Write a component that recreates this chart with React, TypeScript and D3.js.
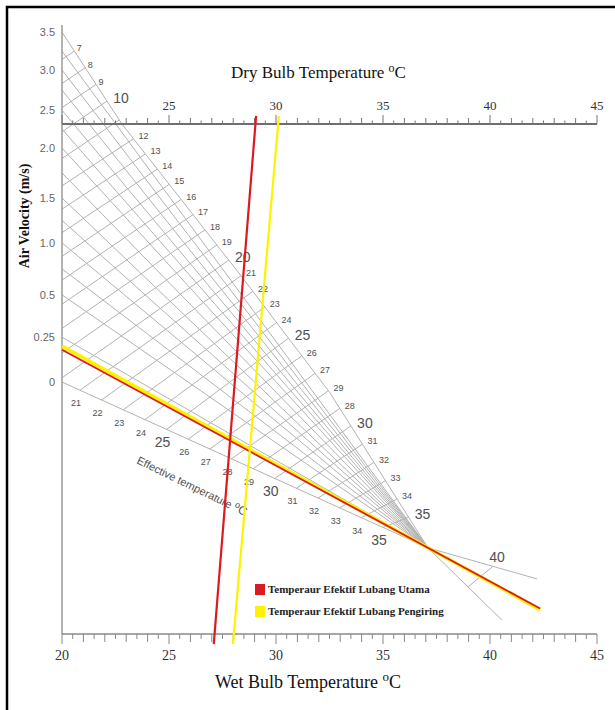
import React from "react";
import * as d3 from "d3";

// axis labels
const dryBulbLabels = [25, 30, 35, 40, 45];
const wetBulbLabels = [20, 25, 30, 35, 40, 45];
const velocityLabels = [0, 0.25, 0.5, 1.0, 1.5, 2.0, 2.5, 3.0, 3.5];
const velocityText = ["0", "0.25", "0.5", "1.0", "1.5", "2.0", "2.5", "3.0", "3.5"];

// velocity lines of the nomogram (3.5 is the outer edge)
const velocityGrid = [0, 0.25, 0.5, 0.75, 1.0, 1.25, 1.5, 1.75, 2.0, 2.25, 2.5, 2.75, 3.0, 3.25];

// effective temperature lines and their labels
const etGrid = [7, 8, 9, 10, 11, 12, 13, 14, 15, 16, 17, 18, 19, 20, 21, 22, 23, 24, 25, 26, 27, 28, 29, 30, 31, 32, 33, 34, 35];
const etUpperValues = [7, 8, 9, 10, 12, 13, 14, 15, 16, 17, 18, 19, 20, 21, 22, 23, 24, 25, 26, 27, 28, 29, 30, 31, 32, 33, 34, 35];
const etUpperText = ["7", "8", "9", "10", "12", "13", "14", "15", "16", "17", "18", "19", "20", "21", "22", "23", "24", "25", "26", "27", "29", "28", "30", "31", "32", "33", "34", "35"];
const etLowerValues = [21, 22, 23, 24, 25, 26, 27, 28, 29, 30, 31, 32, 33, 34, 35];
const bigLabels = [10, 20, 25, 30, 35];

// measured shafts: dry bulb / wet bulb reading and the velocity line drawn through the focus
const series = [
  { name: "Temperaur Efektif Lubang Utama", color: "#dc1a22", dryBulb: 29.04, wetBulb: 27.13, velocity: 0.18, endTemp: 42.34 },
  { name: "Temperaur Efektif Lubang Pengiring", color: "#fff200", dryBulb: 30.1, wetBulb: 28.03, velocity: 0.2, endTemp: 42.34 },
];

const serif = "'Liberation Serif', 'Times New Roman', serif";
const sans = "'Liberation Sans', Arial, sans-serif";
const gridColor = "#b2b2b2";
const labelColor = "#505050";

export default function App() {
  // temperature (°C) -> px, u: 0 = dry bulb axis, 1 = wet bulb axis
  const x = d3.scaleLinear().domain([20, 45]).range([62, 597]);
  const y = d3.scaleLinear().domain([0, 1]).range([124, 634]);
  // velocity -> u on the left axis
  const vU = d3.scaleLinear().domain(velocityLabels)
    .range([0.506, 0.418, 0.335, 0.233, 0.145, 0.047, -0.027, -0.106, -0.18]);
  // ET -> u on the outer (3.5 m/s) edge
  const etU = d3.scaleLinear().domain([7, 10, 12, 20, 25, 30, 35])
    .range([-0.143, -0.045, 0.029, 0.267, 0.42, 0.592, 0.771]);
  // outer edge: u -> temperature
  const edgeT = d3.scaleLinear().domain([-0.18, 0, 0.3, 0.527, 0.831])
    .range([20, 22.8, 28.41, 32.52, 37.1]);
  // ET -> temperature on the still-air line
  const etT = d3.scaleLinear().domain([21, 35]).range([20.84, 35.0]);
  const focus = { t: 37.1, u: 0.831 };
  const floorU = d3.scaleLinear().domain([20, focus.t]).range([vU(0), focus.u]);
  const rays = [{ t: 42.2, u: 0.892 }, { t: 40.56, u: 0.973 }];
  const et40 = { value: 40, along: [0.596, 0.54] };

  const P = (t: number, u: number): [number, number] => [x(t), y(u)];
  const F = P(focus.t, focus.u);
  const line = d3.line();

  const upperPt = (e: number) => P(edgeT(etU(e)), etU(e));
  const lowerPt = (e: number) => P(etT(e), floorU(etT(e)));

  const etSegs = etGrid.map((e) => {
    let a = lowerPt(e);
    const b = upperPt(e);
    if (a[0] < x(20)) {
      const k = (x(20) - a[0]) / (b[0] - a[0]);
      a = [x(20), a[1] + k * (b[1] - a[1])];
    }
    return { e, a, b };
  });

  const edgePts = edgeT.domain().map((u, i) => P(edgeT.range()[i], u));

  const rayPts = rays.map((r) => P(r.t, r.u));
  const onRay = (i: number, k: number): [number, number] => [
    F[0] + k * (rayPts[i][0] - F[0]),
    F[1] + k * (rayPts[i][1] - F[1]),
  ];
  const e40a = onRay(0, et40.along[0]);
  const e40b = onRay(1, et40.along[1]);

  const halfTicks = d3.range(20, 45.001, 0.5);
  const tickLen = (v: number, big: number, mid: number, small: number) =>
    v % 5 === 0 ? big : v % 1 === 0 ? mid : small;

  const steep = (s: typeof series[0]) => {
    const u0 = -0.016, u1 = 1.02;
    const tAt = (u: number) => s.dryBulb + (s.wetBulb - s.dryBulb) * u;
    return line([P(tAt(u0), u0), P(tAt(u1), u1)]);
  };
  const diag = (s: typeof series[0]) => {
    const u0 = vU(s.velocity);
    const u1 = u0 + (focus.u - u0) * (s.endTemp - 20) / (focus.t - 20);
    return line([P(20, u0), P(s.endTemp, u1)]);
  };

  const upperDx = (e: number) => (bigLabels.includes(e) ? 14 : e < 10 ? 5 : 10);

  return (
    <svg width={615} height={710} style={{ position: "absolute", left: 0, top: 0, background: "#fff" }}>
      <rect x={0} y={0} width={615} height={710} fill="#fff" />
      <rect x={7} y={7} width={660} height={760} fill="none" stroke="#000" strokeWidth={2.5} />

      {/* nomogram grid */}
      <g stroke={gridColor} strokeWidth={1} fill="none">
        {velocityGrid.map((v) => (
          <path key={"v" + v} d={line([P(20, vU(v)), F]) || ""} />
        ))}
        <path d={line([...edgePts]) || ""} />
        {etSegs.map((s) => (
          <path key={"e" + s.e} d={line([s.a, s.b]) || ""} />
        ))}
        {rayPts.map((r, i) => (
          <path key={"r" + i} d={line([F, r]) || ""} />
        ))}
        <path d={line([e40a, e40b]) || ""} />
      </g>

      {/* left axis */}
      <line x1={x(20)} x2={x(20)} y1={25} y2={y(1)} stroke="#9a9a9a" strokeWidth={1.5} />
      {velocityLabels.map((v, i) => (
        <text key={"vl" + v} x={55} y={y(vU(v))} dy="0.35em" textAnchor="end"
          fontFamily={sans} fontSize={11} fill="#666">{velocityText[i]}</text>
      ))}
      <text transform={`translate(29,${216}) rotate(-90)`} textAnchor="middle"
        fontFamily={serif} fontWeight="bold" fontSize={14} fill="#111">Air Velocity (m/s)</text>

      {/* dry bulb axis (top) */}
      <line x1={x(20)} x2={x(45)} y1={y(0)} y2={y(0)} stroke="#6e6e6e" strokeWidth={1.8} />
      {halfTicks.map((v) => (
        <line key={"tt" + v} x1={x(v)} x2={x(v)} y1={y(0)} y2={y(0) - tickLen(v, 9, 6, 3.5)}
          stroke="#777" strokeWidth={1} />
      ))}
      {dryBulbLabels.map((v) => (
        <text key={"tl" + v} x={x(v)} y={110} textAnchor="middle" fontFamily={serif}
          fontSize={13} fill="#333">{v}</text>
      ))}
      <text x={231} y={78} fontFamily={serif} fontSize={17} fill="#111">
        Dry Bulb Temperature <tspan dy={-6} fontSize={12}>o</tspan><tspan dy={6}>C</tspan>
      </text>

      {/* wet bulb axis (bottom) */}
      <line x1={x(20)} x2={x(45)} y1={y(1)} y2={y(1)} stroke="#888" strokeWidth={1.5} />
      {halfTicks.map((v) => (
        <line key={"bt" + v} x1={x(v)} x2={x(v)} y1={y(1)} y2={y(1) + tickLen(v, 10, 8, 5)}
          stroke="#888" strokeWidth={1} />
      ))}
      {wetBulbLabels.map((v) => (
        <text key={"bl" + v} x={x(v)} y={660} textAnchor="middle" fontFamily={serif}
          fontSize={14} fill="#333">{v}</text>
      ))}
      <text x={215} y={688} fontFamily={serif} fontSize={18} fill="#111">
        Wet Bulb Temperature <tspan dy={-7} fontSize={13}>o</tspan><tspan dy={7}>C</tspan>
      </text>

      {/* ET labels */}
      {etUpperValues.map((e, i) => {
        const p = upperPt(e);
        const big = bigLabels.includes(e);
        return (
          <text key={"eu" + i} x={p[0] + upperDx(e)} y={p[1] - 3} dy="0.35em" textAnchor="middle"
            fontFamily={sans} fontSize={big ? 14 : 9} fill={labelColor}>{etUpperText[i]}</text>
        );
      })}
      {etLowerValues.map((e) => {
        const p = lowerPt(e);
        const big = bigLabels.includes(e);
        return (
          <text key={"el" + e} x={p[0] - 4} y={p[1] + 13} dy="0.35em" textAnchor="middle"
            fontFamily={sans} fontSize={big ? 14 : 9} fill={labelColor}>{e}</text>
        );
      })}
      <text x={e40a[0] + 4} y={e40a[1] - 9} dy="0.35em" textAnchor="middle" fontFamily={sans}
        fontSize={14} fill={labelColor}>{et40.value}</text>
      <text transform="translate(136,463) rotate(26)" fontFamily={sans} fontSize={11} fill={labelColor}>
        Effective temperature <tspan dy={-4} fontSize={9}>o</tspan><tspan dy={4} fontSize={12}>C</tspan>
      </text>

      {/* measured lines */}
      {series.slice().reverse().map((s) => (
        <path key={"d" + s.name} d={diag(s) || ""} fill="none" stroke={s.color}
          strokeWidth={s.color === "#fff200" ? 3.5 : 1.8} />
      ))}
      {series.map((s) => (
        <path key={"s" + s.name} d={steep(s) || ""} fill="none" stroke={s.color} strokeWidth={2.2} />
      ))}

      {/* legend */}
      {series.map((s, i) => (
        <g key={"lg" + s.name} transform={`translate(255,${584 + i * 22})`}>
          <rect width={10} height={11} fill={s.color} />
          <text x={13} y={9} fontFamily={serif} fontWeight="bold" fontSize={11} fill="#222">{s.name}</text>
        </g>
      ))}
    </svg>
  );
}
